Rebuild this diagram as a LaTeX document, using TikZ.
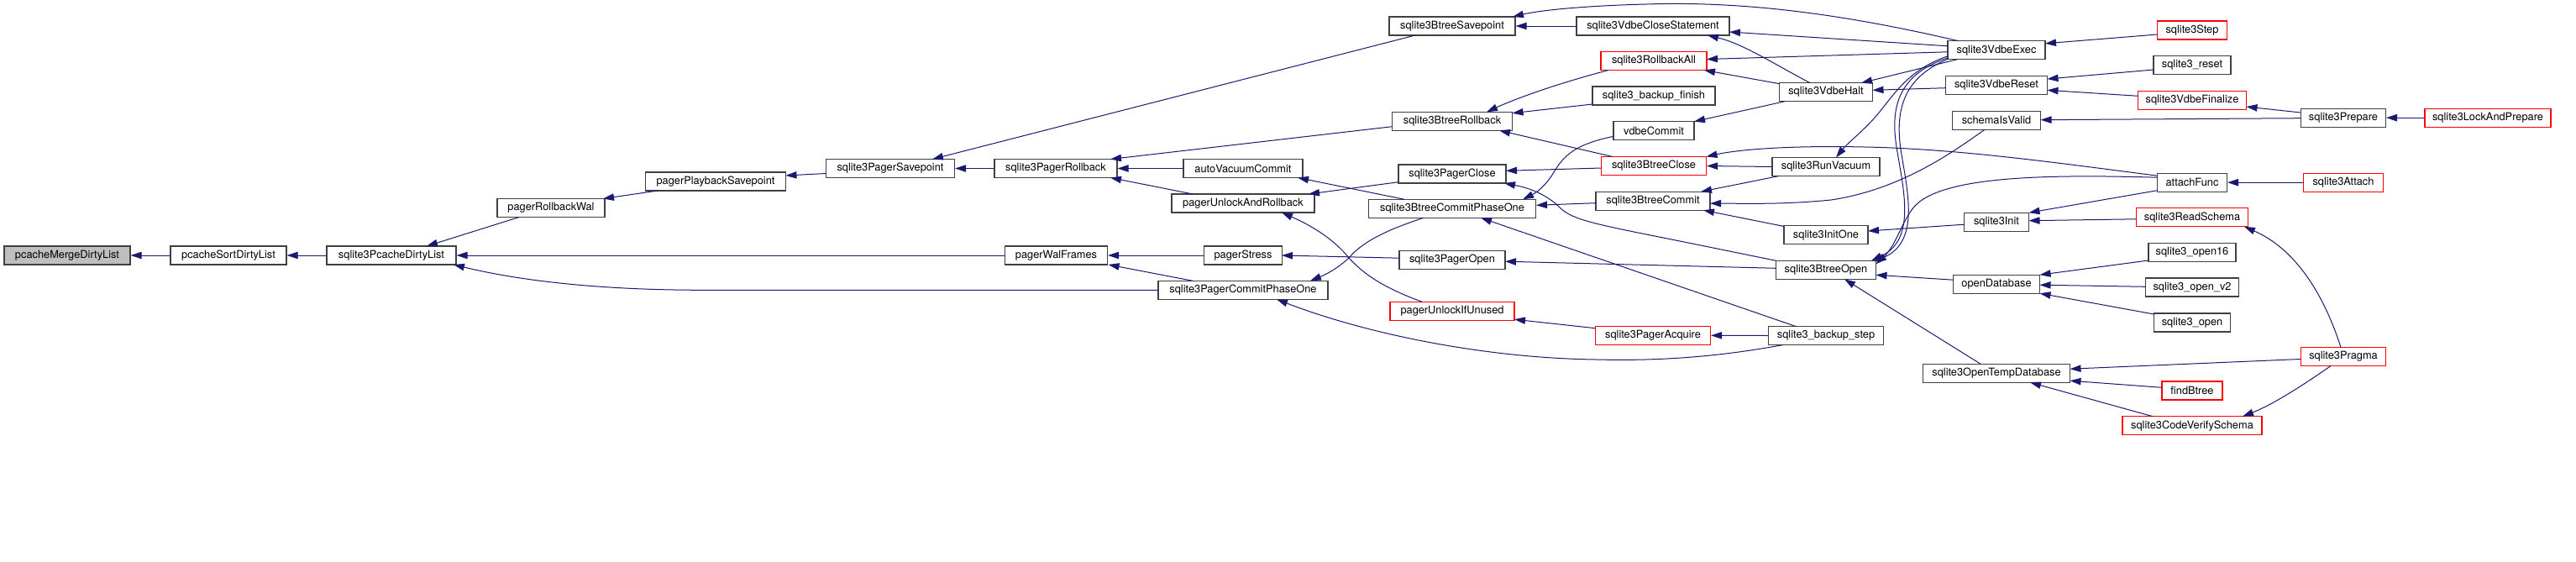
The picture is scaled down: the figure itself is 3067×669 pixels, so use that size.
\documentclass[tikz,border=0pt]{standalone}
\usepackage{fontspec}
\setmainfont{TeX Gyre Heros}
\usetikzlibrary{arrows.meta,calc}
\definecolor{edgecol}{HTML}{191970}
\definecolor{boxgray}{HTML}{BFBFBF}
\definecolor{boxline}{HTML}{404040}
\tikzset{
  fn/.style={draw=boxline, line width=0.55pt, fill=white, inner sep=0pt, minimum height=11pt, font=\fontsize{6.4}{7}\selectfont},
  fnr/.style={fn, draw=red},
  bw/.style={minimum width=#1*0.5pt},
  call/.style={draw=edgecol, line width=0.5pt, -{Triangle[length=6.5pt,width=4.2pt]}}
}
\begin{document}
\begin{tikzpicture}[x=0.5pt,y=-0.5pt]
\useasboundingbox (0,0) rectangle (3067,669);
% nodes
\node[fn,bw=150,fill=boxgray] (merge) at (80,304) {pcacheMergeDirtyList};
\node[fn,bw=138] (sort) at (272,304) {pcacheSortDirtyList};
\node[fn,bw=154] (pdl) at (466,304) {sqlite3PcacheDirtyList};
\node[fn,bw=128] (rbwal) at (656,247.5) {pagerRollbackWal};
\node[fn,bw=167] (pbsp) at (852,216) {pagerPlaybackSavepoint};
\node[fn,bw=153] (psp) at (1060,200.5) {sqlite3PagerSavepoint};
\node[fn,bw=122] (walf) at (1257.5,304) {pagerWalFrames};
\node[fn,bw=146] (prb) at (1257,200.5) {sqlite3PagerRollback};
\node[fn,bw=202] (pcpo) at (1480,345.3) {sqlite3PagerCommitPhaseOne};
\node[fn,bw=142] (avc) at (1480,200.5) {autoVacuumCommit};
\node[fn,bw=170] (uar) at (1480,242) {pagerUnlockAndRollback};
\node[fn,bw=93] (stress) at (1480,304) {pagerStress};
\node[fn,bw=150] (bsp) at (1729,31) {sqlite3BtreeSavepoint};
\node[fn,bw=143] (brb) at (1729,144.3) {sqlite3BtreeRollback};
\node[fn,bw=128] (pclose) at (1729,207) {sqlite3PagerClose};
\node[fn,bw=199] (bcpo) at (1729,248.3) {sqlite3BtreeCommitPhaseOne};
\node[fn,bw=126] (popen) at (1729,309.2) {sqlite3PagerOpen};
\node[fnr,bw=148] (uiu) at (1729,370.2) {pagerUnlockIfUnused};
\node[fn,bw=182] (vcs) at (1968,31) {sqlite3VdbeCloseStatement};
\node[fnr,bw=126] (rba) at (1969,72.5) {sqlite3RollbackAll};
\node[fn,bw=146] (bfin) at (1969,114) {sqlite3\_backup\_finish};
\node[fn,bw=96] (vcommit) at (1969,155.7) {vdbeCommit};
\node[fnr,bw=125] (bclose) at (1969,197.5) {sqlite3BtreeClose};
\node[fn,bw=136] (bcommit) at (1968,239.2) {sqlite3BtreeCommit};
\node[fnr,bw=137] (acq) at (1968,399.3) {sqlite3PagerAcquire};
\node[fn,bw=111] (halt) at (2174,109.7) {sqlite3VdbeHalt};
\node[fn,bw=128] (vac) at (2174,198.5) {sqlite3RunVacuum};
\node[fn,bw=100] (initone) at (2174,279.7) {sqlite3InitOne};
\node[fn,bw=119] (bopen) at (2174,321.3) {sqlite3BtreeOpen};
\node[fn,bw=137] (bstep) at (2174,399.5) {sqlite3\_backup\_step};
\node[fn,bw=116] (exec) at (2377,59.8) {sqlite3VdbeExec};
\node[fn,bw=121] (reset) at (2377,101.7) {sqlite3VdbeReset};
\node[fn,bw=105] (valid) at (2377,143.2) {schemaIsValid};
\node[fn,bw=77] (init) at (2377,264.2) {sqlite3Init};
\node[fn,bw=103] (odb) at (2377,338.2) {openDatabase};
\node[fn,bw=175] (otemp) at (2377,444.2) {sqlite3OpenTempDatabase};
\node[fnr,bw=83] (step) at (2610,36) {sqlite3Step};
\node[fn,bw=92] (sreset) at (2610,77.7) {sqlite3\_reset};
\node[fnr,bw=129] (fin) at (2610,119.3) {sqlite3VdbeFinalize};
\node[fn,bw=83] (attach) at (2610,217.2) {attachFunc};
\node[fnr,bw=133] (rschema) at (2610,258.8) {sqlite3ReadSchema};
\node[fn,bw=104] (open16) at (2610,300.7) {sqlite3\_open16};
\node[fn,bw=111] (openv2) at (2610,342) {sqlite3\_open\_v2};
\node[fn,bw=91] (open) at (2610,384) {sqlite3\_open};
\node[fnr,bw=101] (pragma) at (2790,424.5) {sqlite3Pragma};
\node[fnr,bw=72] (findb) at (2610,465) {findBtree};
\node[fnr,bw=166] (cvs) at (2610,506.7) {sqlite3CodeVerifySchema};
\node[fn,bw=101] (prep) at (2790,140.2) {sqlite3Prepare};
\node[fnr,bw=150] (lap) at (2962,140.2) {sqlite3LockAndPrepare};
\node[fnr,bw=95] (sattach) at (2790,217.2) {sqlite3Attach};
% edges (caller -> callee)
\draw[call] (sort.west) -- (merge.east);
\draw[call] (pdl.west) -- (sort.east);
\draw[call] ($(rbwal)+(-38,11)$) -- ($(pdl)+(42,-11)$);
\draw[call] (walf.west) -- (pdl.east);
\draw[call] (pcpo.west) -- (833,345.3) .. controls (700,345) and (610,332) .. ($(pdl)+(74,11)$);
\draw[call] ($(pbsp)+(-69,11)$) -- ($(rbwal)+(62,-11)$);
\draw[call] ($(psp)+(-77,6)$) -- ($(pbsp)+(83.5,-7)$);
\draw[call] (prb.west) -- (psp.east);
\draw[call] ($(bsp)+(-44,11)$) -- ($(psp)+(50,-11)$);
\draw[call] ($(brb)+(-71.5,6.4)$) -- ($(prb)+(65,-11)$);
\draw[call] (avc.west) -- (prb.east);
\draw[call] ($(uar)+(-60,-11)$) -- ($(prb)+(65,11)$);
\draw[call] (stress.west) -- (walf.east);
\draw[call] ($(pcpo)+(-60,-11)$) -- ($(walf)+(62,11)$);
\draw[call] ($(pclose)+(-64,9.7)$) -- ($(uar)+(78,-11)$);
\draw[call] ($(uiu)+(-36,-11)$) .. controls (1640,340) and (1620,322) .. (1606,307) .. controls (1590,287) and (1565,270) .. ($(uar)+(46,11)$);
\draw[call] ($(bcpo)+(-57,-11)$) -- ($(avc)+(65,11)$);
\draw[call] ($(popen)+(-63,-2)$) -- ($(stress)+(46,0)$);
\draw[call] ($(bcpo)+(-34,11)$) .. controls (1650,274) and (1622,288) .. (1606,307) .. controls (1592,320) and (1578,327) .. ($(pcpo)+(80,-11)$);
\draw[call] ($(bstep)+(-51,11)$) .. controls (2050,424) and (1980,430) .. (1900,428) .. controls (1760,426) and (1620,395) .. ($(pcpo)+(40,11)$);
\draw[call] ($(vcommit)+(-48,6.6)$) .. controls (1875,172) and (1862,185) .. (1850,205) .. controls (1840,222) and (1828,230) .. ($(bcpo)+(84,-11)$);
\draw[call] ($(bcommit)+(-68,2.5)$) -- ($(bcpo)+(100,-4)$);
\draw[call] ($(bstep)+(-36,-11)$) -- ($(bcpo)+(34,11)$);
\draw[call] ($(rba)+(-54,11)$) .. controls (1860,98) and (1810,115) .. ($(brb)+(41,-11)$);
\draw[call] ($(bfin)+(-73,10)$) -- ($(brb)+(71.5,-9.6)$);
\draw[call] ($(bclose)+(-49,-11)$) -- ($(brb)+(56,11)$);
\draw[call] ($(bclose)+(-62.5,2.5)$) -- ($(pclose)+(64,-3.7)$);
\draw[call] ($(bopen)+(-59.5,-11)$) -- (2000,287) .. controls (1900,267) and (1872,262) .. (1857,247) .. controls (1842,232) and (1822,224) .. ($(pclose)+(62,11)$);
\draw[call] ($(bopen)+(-59.5,-2)$) -- ($(popen)+(63,2)$);
\draw[call] ($(acq)+(-68.7,-8.6)$) -- ($(uiu)+(74,10)$);
\draw[call] (bstep.west) -- (acq.east);
\draw[call] ($(exec)+(-45,-11)$) .. controls (2200,18) and (2080,1) .. (1960,5) .. controls (1880,7) and (1830,13) .. ($(bsp)+(72,-11)$);
\draw[call] (vcs.west) -- (bsp.east);
\draw[call] ($(exec)+(-58,-5)$) -- ($(vcs)+(91,7)$);
\draw[call] ($(halt)+(-19,-11)$) .. controls (2110,75) and (2075,52) .. ($(vcs)+(65,11)$);
\draw[call] ($(exec)+(-58,2)$) -- ($(rba)+(63,-2)$);
\draw[call] ($(halt)+(-55.5,-10)$) -- ($(rba)+(60,11)$);
\draw[call] ($(halt)+(-49,11)$) -- ($(vcommit)+(48,-11)$);
\draw[call] ($(exec)+(-47,11)$) -- ($(halt)+(42,-11)$);
\draw[call] ($(reset)+(-60.5,3)$) -- ($(halt)+(55.5,-2.4)$);
\draw[call] ($(exec)+(-58,7)$) .. controls (2275,82) and (2258,108) .. (2238,133) .. controls (2222,153) and (2200,170) .. ($(vac)+(12,-11)$);
\draw[call] (vac.west) -- (bclose.east);
\draw[call] ($(attach)+(-41.5,-8)$) .. controls (2450,194) and (2330,177) .. (2220,175) .. controls (2130,173) and (2070,178) .. ($(bclose)+(62.5,-11)$);
\draw[call] ($(vac)+(-56,11)$) -- ($(bcommit)+(57,-11)$);
\draw[call] ($(valid)+(-14,11)$) .. controls (2320,185) and (2260,226) .. (2180,238) .. controls (2120,244) and (2070,242) .. ($(bcommit)+(68,3)$);
\draw[call] ($(initone)+(-51,-10.4)$) -- ($(bcommit)+(60,11)$);
\draw[call] ($(exec)+(-58,9)$) .. controls (2262,88) and (2250,125) .. (2258,175) .. controls (2266,225) and (2282,285) .. ($(bopen)+(54,-11)$);
\draw[call] ($(exec)+(-58,10.5)$) .. controls (2268,92) and (2256,128) .. (2263,178) .. controls (2271,228) and (2286,287) .. ($(bopen)+(58,-10)$);
\draw[call] ($(attach)+(-41.5,-6)$) .. controls (2450,208) and (2320,208) .. (2282,243) .. controls (2266,258) and (2258,292) .. ($(bopen)+(59.5,-7)$);
\draw[call] ($(attach)+(-41.5,9.5)$) -- ($(init)+(38.5,-11)$);
\draw[call] ($(rschema)+(-66.5,2)$) -- ($(init)+(38.5,-1.5)$);
\draw[call] ($(init)+(-38.5,3)$) -- ($(initone)+(50,-4.7)$);
\draw[call] ($(odb)+(-51.5,-5)$) -- ($(bopen)+(59.5,6)$);
\draw[call] ($(otemp)+(-19,-11)$) -- ($(bopen)+(22,11)$);
\draw[call] ($(step)+(-41.5,5)$) -- ($(exec)+(58,-8)$);
\draw[call] ($(sreset)+(-46,5.3)$) -- ($(reset)+(60.5,-7.7)$);
\draw[call] ($(fin)+(-64.5,-5)$) -- ($(reset)+(60.5,5.6)$);
\draw[call] ($(prep)+(-51,-6.2)$) -- ($(fin)+(64.5,7.7)$);
\draw[call] ($(prep)+(-51,0.5)$) -- ($(valid)+(52.5,-0.5)$);
\draw[call] (lap.west) -- (prep.east);
\draw[call] (sattach.west) -- (attach.east);
\draw[call] ($(open16)+(-52,9.3)$) -- ($(odb)+(51.5,-11)$);
\draw[call] ($(openv2)+(-55.5,-0.7)$) -- ($(odb)+(51.5,1)$);
\draw[call] ($(open)+(-45.5,-10)$) -- ($(odb)+(51.5,11)$);
\draw[call] ($(pragma)+(-3,-11)$) .. controls (2765,345) and (2730,295) .. ($(rschema)+(62,11)$);
\draw[call] ($(pragma)+(-51,3)$) -- ($(otemp)+(87.5,-5)$);
\draw[call] ($(findb)+(-36,-3.7)$) -- ($(otemp)+(87.5,9)$);
\draw[call] ($(cvs)+(-47,-11)$) -- ($(otemp)+(40,11)$);
\draw[call] ($(pragma)+(-15,11)$) .. controls (2740,460) and (2705,482) .. ($(cvs)+(60,-11)$);
\end{tikzpicture}
\end{document}
